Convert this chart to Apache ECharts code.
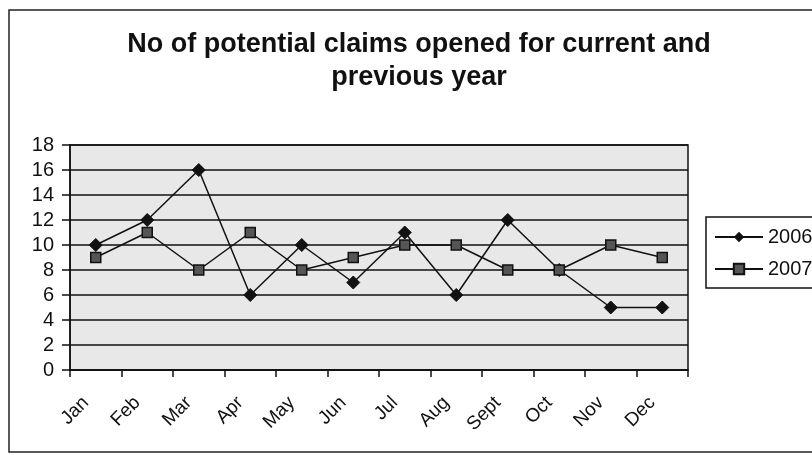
<!DOCTYPE html>
<html><head><meta charset="utf-8">
<script src="https://cdn.jsdelivr.net/npm/echarts@6/dist/echarts.min.js"></script>
<style>html,body{margin:0;padding:0;background:#fff}#c{width:812px;height:455px}</style>
</head><body><div id="c"></div>
<script>
var titleText = 'No of potential claims opened for current and\nprevious year';
var months = ['Jan','Feb','Mar','Apr','May','Jun','Jul','Aug','Sept','Oct','Nov','Dec'];
var seriesNames = ['2006','2007'];
var values2006 = [10,12,16,6,10,7,11,6,12,8,5,5];
var values2007 = [9,11,8,11,8,9,10,10,8,8,10,9];
var yTicks = {min:0, max:18, interval:2};

var chart = echarts.init(document.getElementById('c'));
chart.setOption({
  animation:false,
  backgroundColor:'#fff',
  title:{text:titleText,left:414,textAlign:'center',top:23,
    textStyle:{fontFamily:'Liberation Sans',fontWeight:'bold',fontSize:27,color:'#111',lineHeight:33}},
  graphic:[{type:'rect',shape:{x:9,y:10,width:820,height:442},style:{fill:null,stroke:'#222',lineWidth:1.5},silent:true,z:-1}],
  legend:{orient:'vertical',left:706,top:217,itemGap:12,itemWidth:48,itemHeight:13,
    borderColor:'#111',borderWidth:1.5,padding:[10,20,9,8],
    textStyle:{fontFamily:'Liberation Sans',fontSize:20,color:'#111'},
    data:seriesNames},
  grid:{left:70,right:124,top:145,bottom:85,show:true,backgroundColor:'#e8e8e8',borderColor:'#111',borderWidth:1.5},
  xAxis:{type:'category',data:months,boundaryGap:true,
    axisLine:{lineStyle:{color:'#111',width:1.5}},
    axisTick:{show:true,length:7,lineStyle:{color:'#111',width:1.5}},
    axisLabel:{rotate:45,fontFamily:'Liberation Sans',fontSize:19,color:'#111',margin:20,padding:[0,14,0,0],interval:0},
    splitLine:{show:false}},
  yAxis:{type:'value',min:yTicks.min,max:yTicks.max,interval:yTicks.interval,
    axisLine:{show:true,lineStyle:{color:'#111',width:1.5}},
    axisTick:{show:true,length:8,lineStyle:{color:'#111',width:1.5}},
    axisLabel:{fontFamily:'Liberation Sans',fontSize:20,color:'#111',margin:16},
    splitLine:{show:true,lineStyle:{color:'#111',width:1.5}}},
  series:[
    {name:seriesNames[0],type:'line',data:values2006,symbol:'diamond',symbolSize:13,
      lineStyle:{color:'#111',width:1.5},itemStyle:{color:'#111',borderColor:'#111'}},
    {name:seriesNames[1],type:'line',data:values2007,symbol:'rect',symbolSize:10,
      lineStyle:{color:'#111',width:1.5},itemStyle:{color:'#555',borderColor:'#111',borderWidth:1.5}}
  ]
});
</script></body></html>
